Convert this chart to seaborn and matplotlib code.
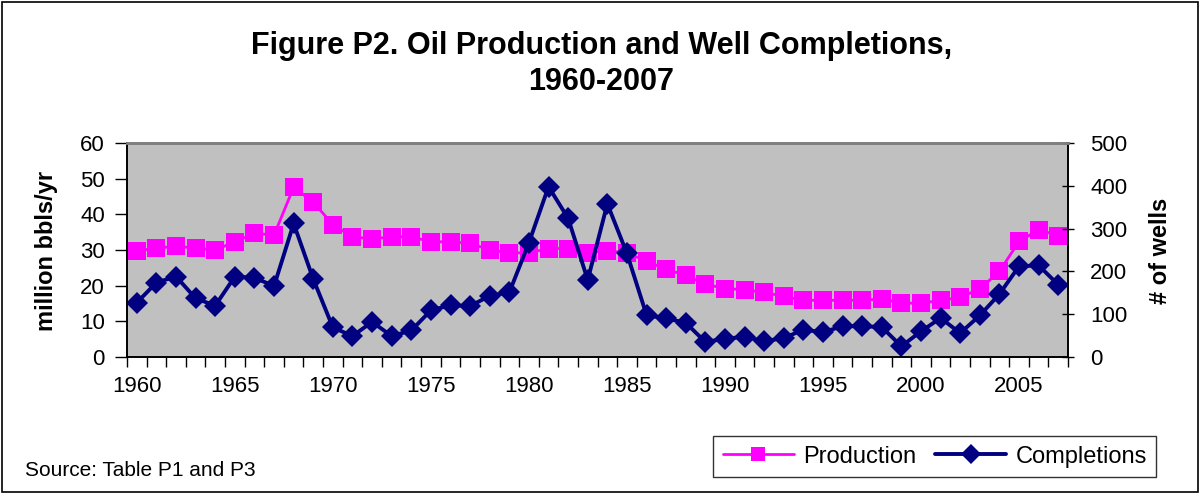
"""Figure P2: oil production and well completions, 1960-2007"""

import numpy as np
import matplotlib.pyplot as plt
import seaborn as sns
from matplotlib.patches import Rectangle
from matplotlib.ticker import FixedLocator

sns.set_theme(style="ticks")
plt.rcParams["font.family"] = ["Liberation Sans", "DejaVu Sans"]
for key in ("text.color", "axes.labelcolor", "xtick.color", "ytick.color"):
    plt.rcParams[key] = "black"

years = list(range(1960, 2008))

# million bbls/yr
production = [
    29.8, 30.5, 31.1, 30.5, 30.0, 32.3, 34.7, 34.2, 47.6, 43.4,
    37.1, 33.7, 33.1, 33.7, 33.7, 32.3, 32.3, 31.9, 30.0, 29.2,
    29.2, 30.4, 30.4, 29.2, 29.8, 29.2, 26.9, 24.6, 22.9, 20.4,
    19.2, 18.9, 18.1, 17.0, 15.9, 15.9, 15.9, 15.9, 16.3, 15.1,
    15.1, 15.9, 16.7, 19.1, 24.0, 32.4, 35.7, 34.0,
]

# number of wells
completions = [
    127, 174, 188, 137, 120, 188, 185, 166, 312, 182,
    69, 49, 82, 49, 62, 109, 121, 119, 143, 151,
    267, 398, 324, 180, 358, 242, 98, 90, 80, 35,
    43, 47, 37, 44, 64, 58, 72, 72, 70, 25,
    60, 91, 56, 97, 147, 212, 214, 169,
]

tick_years = [1960, 1965, 1970, 1975, 1980, 1985, 1990, 1995, 2000, 2005]

fig = plt.figure(figsize=(12.03, 4.94), dpi=100)
fig.patch.set_facecolor("white")
fig.patches.append(
    Rectangle((0.002, 0.004), 0.994, 0.992, transform=fig.transFigure,
              fill=False, edgecolor="black", linewidth=1.2)
)

ax = fig.add_axes([0.1056, 0.2773, 0.7822, 0.4332])
ax.set_facecolor("#C0C0C0")
ax2 = ax.twinx()

sns.lineplot(x=years, y=production, ax=ax, color="#FF00FF", linewidth=2,
             marker="s", markersize=13, markeredgewidth=0, label="Production",
             legend=False)
sns.lineplot(x=years, y=completions, ax=ax2, color="#000080", linewidth=2.8,
             marker="D", markersize=11, markeredgewidth=0, label="Completions",
             legend=False)

ax.set_xlim(1959.5, 2007.5)
ax.set_ylim(0, 60)
ax2.set_ylim(0, 500)
ax.set_yticks(np.arange(0, 61, 10))
ax2.set_yticks(np.arange(0, 501, 100))

ax.set_xticks(tick_years)
ax.set_xticklabels([str(y) for y in tick_years])
ax.xaxis.set_minor_locator(FixedLocator(np.arange(1959.5, 2008, 1)))
ax.tick_params(axis="x", which="major", length=0, pad=14, labelsize=16)
ax.tick_params(axis="x", which="minor", length=7, width=1, color="black",
               direction="out")
ax.tick_params(axis="y", length=9, width=1, direction="out", labelsize=16,
               color="black", pad=7)
ax2.tick_params(axis="y", length=8, width=1, direction="inout", labelsize=16,
                color="black", pad=12)

for a in (ax, ax2):
    for side in ("left", "right", "bottom"):
        a.spines[side].set_color("black")
        a.spines[side].set_linewidth(1.2)
    a.spines["top"].set_color("#808080")
    a.spines["top"].set_linewidth(2)

ax.set_ylabel("million bbls/yr", fontsize=17, fontweight="bold")
ax.yaxis.set_label_coords(-0.073, 0.495)
ax2.set_ylabel("# of wells", fontsize=17, fontweight="bold", rotation=90)
ax2.yaxis.set_label_coords(1.086, 0.495)
ax.set_xlabel("")

fig.text(0.5, 0.907, "Figure P2. Oil Production and Well Completions,",
         ha="center", va="center", fontsize=22, fontweight="bold")
fig.text(0.5, 0.833, "1960-2007", ha="center", va="center", fontsize=22,
         fontweight="bold")
fig.text(0.021, 0.048, "Source: Table P1 and P3", ha="left", va="center",
         fontsize=15)

handles = ax.get_lines()[:1] + ax2.get_lines()[:1]
leg = fig.legend(handles, ["Production", "Completions"], loc="lower left",
                 bbox_to_anchor=(0.593, 0.034), ncol=2, fontsize=17,
                 frameon=True, fancybox=False, edgecolor="black",
                 handlelength=3, columnspacing=0.8, borderpad=0.4,
                 borderaxespad=0, handletextpad=0.4)
leg.get_frame().set_linewidth(1.0)
for h in leg.legend_handles:
    h.set_markersize(10)

fig.savefig("out.png", dpi=100)
